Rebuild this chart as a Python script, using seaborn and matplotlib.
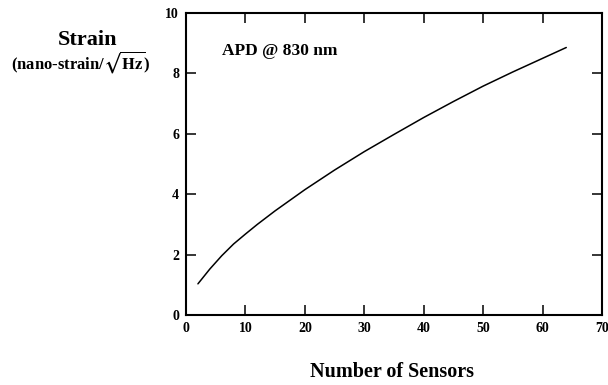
import matplotlib
matplotlib.use("Agg")
import matplotlib.pyplot as plt
import seaborn as sns
import pandas as pd

# data
sensors = [2, 4, 6, 8, 10, 12, 15, 20, 25, 30, 35, 40, 45, 50, 55, 60, 64]
strain = [1.03, 1.52, 1.96, 2.35, 2.68, 3.00, 3.45, 4.15, 4.80, 5.41,
          5.98, 6.54, 7.07, 7.58, 8.05, 8.50, 8.86]
x_ticks = [0, 10, 20, 30, 40, 50, 60, 70]
y_ticks = [0, 2, 4, 6, 8, 10]

sns.set_theme(style="ticks")
plt.rcParams['font.family'] = ['Liberation Serif', 'DejaVu Serif']
plt.rcParams['font.weight'] = 'bold'
plt.rcParams['mathtext.fontset'] = 'stix'
plt.rcParams['text.color'] = 'black'
plt.rcParams['xtick.color'] = 'black'
plt.rcParams['ytick.color'] = 'black'

df = pd.DataFrame({"N": sensors, "S": strain})

fig = plt.figure(figsize=(6.08, 3.85), dpi=100)
ax = fig.add_axes([0.306, 0.182, 0.684, 0.784])
sns.lineplot(data=df, x="N", y="S", ax=ax, color="black", linewidth=1.1)

ax.set_xlim(0, 70)
ax.set_ylim(0, 10)
ax.set_xticks(x_ticks)
ax.set_yticks(y_ticks)
ax.set_xlabel("")
ax.set_ylabel("")
for s in ax.spines.values():
    s.set_visible(True)
    s.set_color("black")
    s.set_linewidth(1.5)
ax.tick_params(direction="in", length=7, width=1.1, top=True, right=True,
               labelsize=10, colors="black", labelcolor="black", pad=5)
for lab in ax.get_xticklabels() + ax.get_yticklabels():
    lab.set_fontweight("bold")

ax.text(6, 8.75, "APD @ 830 nm", fontsize=12.5, fontweight="bold",
        ha="left", va="center", color="black")

fig.text(88 / 608, 1 - 40 / 385, "Strain", fontsize=16, fontweight="bold",
         ha="center", va="center", color="black")
fig.text(81 / 608, 1 - 62 / 385, r"(nano-strain/$\sqrt{\mathbf{Hz}}$)",
         fontsize=12, fontweight="bold", ha="center", va="center",
         color="black")
fig.text(392 / 608, 1 - 372 / 385, "Number of Sensors", fontsize=14.5,
         fontweight="bold", ha="center", va="center", color="black")

fig.savefig("out.png", dpi=100, facecolor="white")
